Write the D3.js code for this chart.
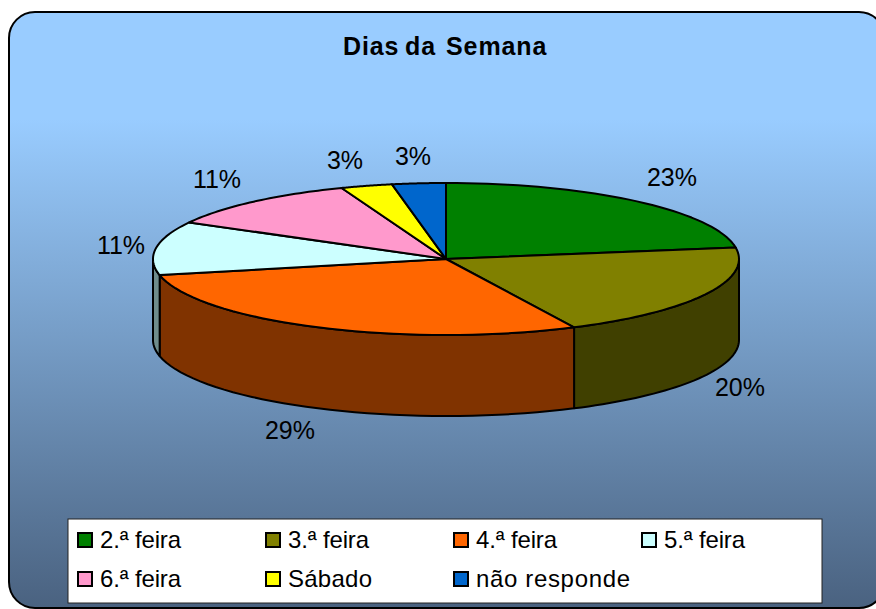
<!DOCTYPE html>
<html><head><meta charset="utf-8">
<script src="https://cdnjs.cloudflare.com/ajax/libs/d3/7.8.5/d3.min.js"></script>
<style>html,body{margin:0;padding:0;background:#fff}svg{display:block}text{font-family:"Liberation Sans",Arial,sans-serif;fill:#000}</style>
</head><body><div id="c"></div>
<script>
const categories=["2.ª feira","3.ª feira","4.ª feira","5.ª feira","6.ª feira","Sábado","não responde"];
const values=[22.6,20.2,28.8,11.4,11.2,2.85,2.95];
const pctLabels=["23%","20%","29%","11%","11%","3%","3%"];
const topColors=["#008000","#808000","#FF6600","#CCFFFF","#FF99CC","#FFFF00","#0066CC"];
const sideColors=["#004000","#404000","#803300","#6F8C8C","#804C66","#808000","#003366"];
const labelPos=[[672,178],[740,388],[290,431],[121,246],[217,180],[345,161],[413,157]];
const legendWidths=[81,81,81,81,81,84,154];
const titleWords=[["Dias",343],["da",405],["Semana",446]];
const W=876,H=609;
const svg=d3.select("#c").append("svg").attr("width",W).attr("height",H);
const defs=svg.append("defs");
const g=defs.append("linearGradient").attr("id","bg").attr("x1",0).attr("y1",0).attr("x2",0).attr("y2",1);
g.append("stop").attr("offset","0%").attr("stop-color","#99CCFF");
g.append("stop").attr("offset","18%").attr("stop-color","#99CCFF");
g.append("stop").attr("offset","100%").attr("stop-color","#4A6280");
svg.append("rect").attr("x",9).attr("y",12).attr("width",876).attr("height",596).attr("rx",26).attr("fill","url(#bg)").attr("stroke","#000").attr("stroke-width",2);
titleWords.forEach(w=>svg.append("text").attr("x",w[1]).attr("y",55).attr("font-size",25).attr("font-weight","bold").attr("letter-spacing",0.9).text(w[0]));
const cx=446,cy=259,rx=293,ry=76,depth=81;
const sx=d3.scaleLinear().domain([-1,1]).range([cx-rx,cx+rx]);
const sy=d3.scaleLinear().domain([-1,1]).range([cy+ry,cy-ry]);
const arcs=d3.pie().sort(null).value(d=>d)(values);
const line=d3.line().x(d=>d[0]).y(d=>d[1]);
const pt=(a,dy=0)=>[sx(Math.sin(a)),sy(Math.cos(a))+dy];
const samples=(a0,a1)=>d3.range(0,41).map(i=>a0+(a1-a0)*i/40);
const P=Math.PI;
const stroke=s=>s.attr("stroke","#000").attr("stroke-width",2).attr("stroke-linejoin","round");
arcs.forEach((d,i)=>{
  const a0=Math.max(d.startAngle,P/2),a1=Math.min(d.endAngle,3*P/2);
  if(a1<=a0)return;
  const t=samples(a0,a1).map(a=>pt(a));
  const b=samples(a0,a1).reverse().map(a=>pt(a,depth));
  svg.append("path").attr("d",line(t.concat(b))+"Z").attr("fill",sideColors[i]).call(stroke);
});
arcs.forEach((d,i)=>{
  const p=[[cx,cy]].concat(samples(d.startAngle,d.endAngle).map(a=>pt(a)));
  svg.append("path").attr("d",line(p)+"Z").attr("fill",topColors[i]).call(stroke);
});
labelPos.forEach((p,i)=>svg.append("text").attr("x",p[0]).attr("y",p[1]+8).attr("text-anchor","middle").attr("font-size",25).text(pctLabels[i]));
svg.append("rect").attr("x",68).attr("y",519).attr("width",754).attr("height",84).attr("fill","#fff").attr("stroke","#222").attr("stroke-width",1);
const colX=[78,266,454,642],rowY=[540,579];
categories.forEach((c,i)=>{
  const x=colX[i%4],y=rowY[Math.floor(i/4)];
  svg.append("rect").attr("x",x).attr("y",y-7).attr("width",14).attr("height",14).attr("fill",topColors[i]).attr("stroke","#000").attr("stroke-width",2);
  svg.append("text").attr("x",x+22).attr("y",y+8).attr("font-size",24).attr("textLength",legendWidths[i]).attr("lengthAdjust","spacing").text(c);
});
</script></body></html>
